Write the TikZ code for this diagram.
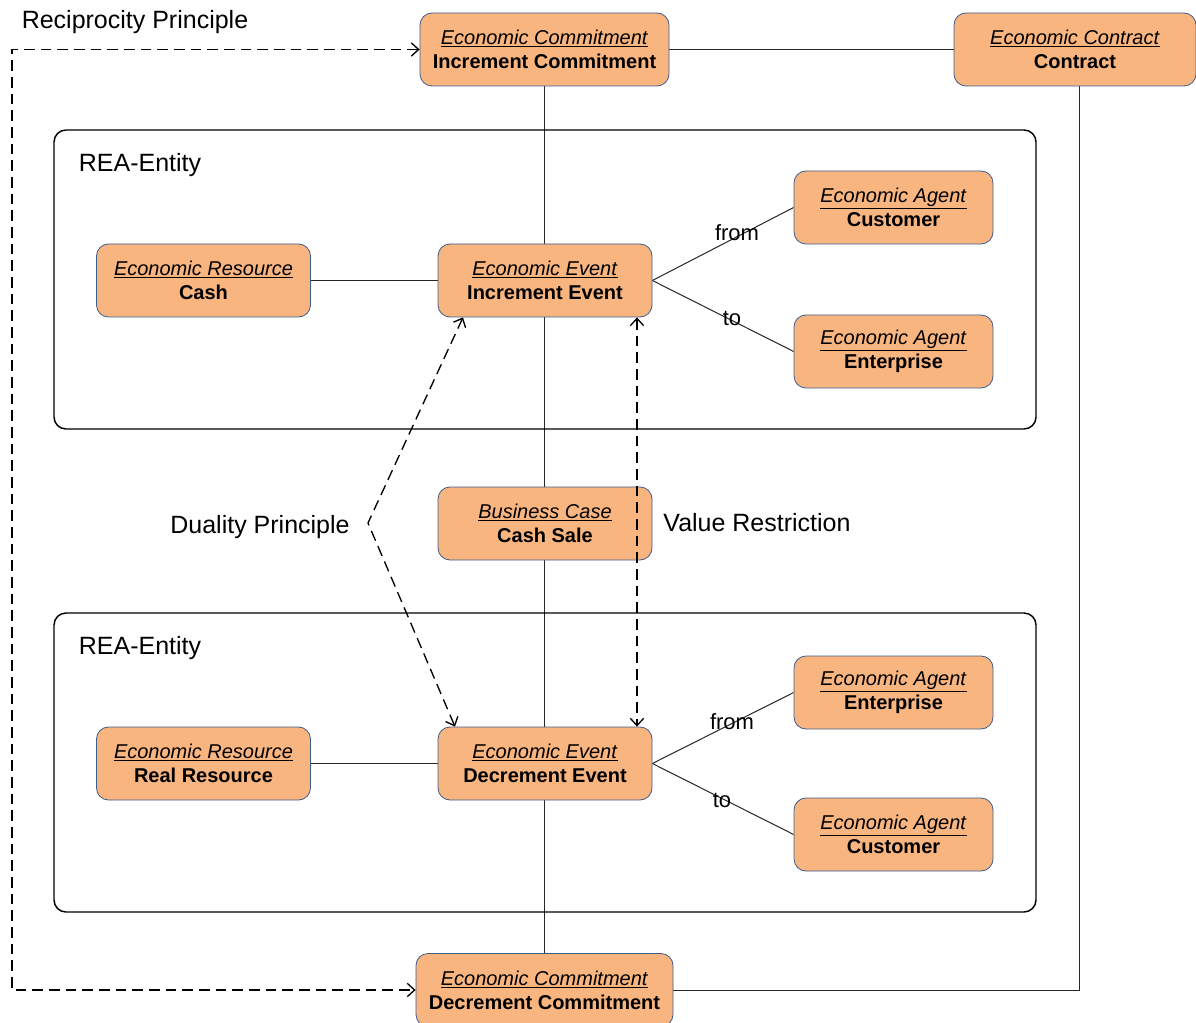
\documentclass[tikz,border=0pt]{standalone}
\usepackage{fontspec}
\setmainfont{Liberation Sans}
\usetikzlibrary{arrows.meta,calc,backgrounds}
\definecolor{reafill}{RGB}{248,181,127}
\definecolor{reaedge}{RGB}{60,92,140}
\newcommand\reatext[2]{\underline{\textit{#1}}\\\textbf{#2}}
\begin{document}
\begin{tikzpicture}[x=0.75pt,y=-0.75pt,
  reabox/.style={draw=reaedge,fill=reafill,rounded corners=9pt,line width=0.6pt,
    minimum height=54.75pt,inner sep=0pt,align=center,
    font=\fontsize{15}{18}\selectfont},
  wide/.style={minimum width=186.75pt},
  evt/.style={minimum width=160.5pt},
  agent/.style={minimum width=149.25pt},
  frame/.style={draw=black,rounded corners=9pt,line width=1.1pt},
  link/.style={draw=black!85,line width=0.75pt},
  principle/.style={draw=black,line width=1pt,dash pattern=on 8pt off 4.5pt,
    {Straight Barb[length=5.5pt,width=10pt]}-{Straight Barb[length=5.5pt,width=10pt]}},
  biglabel/.style={font=\fontsize{18.75}{22}\selectfont,inner sep=0pt},
  rolelabel/.style={font=\fontsize{16.5}{18}\selectfont,inner sep=0pt}]
\useasboundingbox (0,0) rectangle (1196,1023);

% REA entity frames
\draw[frame] (54,130) rectangle (1036,429);
\draw[frame] (54,613) rectangle (1036,912);
\node[biglabel] (f1) at (140,165) {REA-Entity};
\node[biglabel] (f2) at (140,648) {REA-Entity};

% commitments and contract
\node[reabox,wide] (ic) at (544.5,49.5) {\reatext{Economic Commitment}{Increment Commitment}};
\node[reabox,minimum width=181.5pt] (ct) at (1075,49.5) {\reatext{Economic Contract}{Contract}};
\node[reabox,minimum width=192.75pt] (dc) at (544.5,990) {\reatext{Economic Commitment}{Decrement Commitment}};

% upper entity
\node[reabox,evt] (cash) at (203.5,280.5) {\reatext{Economic Resource}{Cash}};
\node[reabox,evt] (ie) at (545,280.5) {\reatext{Economic Event}{Increment Event}};
\node[reabox,agent] (cu1) at (893.5,207.5) {\reatext{Economic Agent}{Customer}};
\node[reabox,agent] (en1) at (893.5,351.5) {\reatext{Economic Agent}{Enterprise}};

% business case
\node[reabox,evt] (bc) at (545,523.5) {\reatext{Business Case}{Cash Sale}};

% lower entity
\node[reabox,evt] (rr) at (203.5,763.5) {\reatext{Economic Resource}{Real Resource}};
\node[reabox,evt] (de) at (545,763.5) {\reatext{Economic Event}{Decrement Event}};
\node[reabox,agent] (en2) at (893.5,692.5) {\reatext{Economic Agent}{Enterprise}};
\node[reabox,agent] (cu2) at (893.5,834.5) {\reatext{Economic Agent}{Customer}};

% solid associations behind the boxes
\begin{pgfonlayer}{background}
  \draw[link] (ic.south) -- (dc.north);
  \draw[link] (ic.east) -- (ct.west);
  \draw[link] ($(ct.south)+(4,0)$) |- (dc.east);
  \draw[link] (cash.east) -- (ie.west);
  \draw[link] (ie.east) -- (cu1.west);
  \draw[link] (ie.east) -- (en1.west);
  \draw[link] (rr.east) -- (de.west);
  \draw[link] (de.east) -- (en2.west);
  \draw[link] (de.east) -- (cu2.west);
\end{pgfonlayer}

% role labels
\node[rolelabel] (r1) at (737,233) {from};
\node[rolelabel] (r2) at (732,318) {to};
\node[rolelabel] (r3) at (732,722) {from};
\node[rolelabel] (r4) at (722,800) {to};

% principles
\coordinate (rc) at (12,0);
\draw[principle] (ic.west) -- (ic.west -| rc) -- (dc.west -| rc) -- (dc.west);
\node[biglabel] (rp) at (135,22) {Reciprocity Principle};

\coordinate (dp) at (368,523);
\draw[principle] ($(ie.south)+(-82,0)$) -- (dp) -- ($(de.north)+(-90,0)$);
\node[biglabel] (dl) at (260,527) {Duality Principle};

\draw[principle] ($(ie.south)+(92,0)$) -- ($(de.north)+(92,0)$);
\node[biglabel] (vl) at (757,523) {Value Restriction};
\end{tikzpicture}
\end{document}
